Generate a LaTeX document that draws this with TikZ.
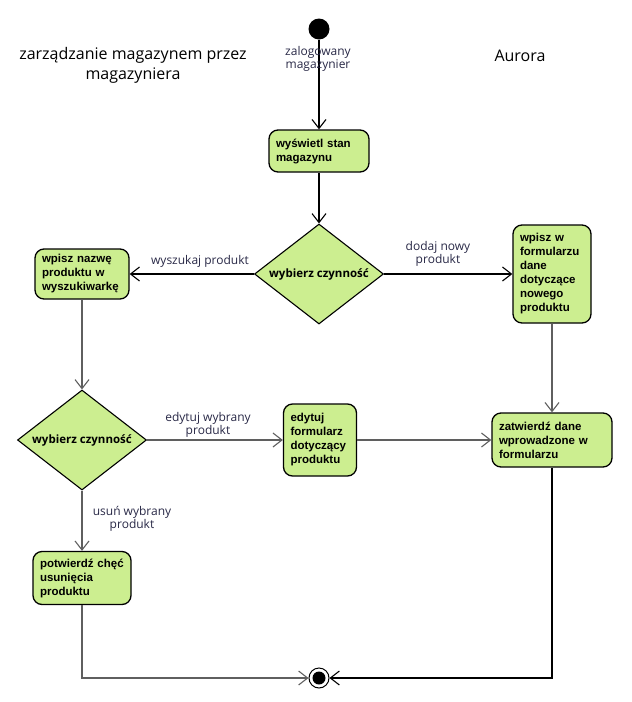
\documentclass[tikz,border=0pt]{standalone}
\usepackage{fontspec}
\setmainfont{Open Sans}
\newfontfamily\boxfont{Liberation Sans}
\usetikzlibrary{arrows.meta,shapes.geometric}
\definecolor{actfill}{RGB}{204,238,144}
\definecolor{greyline}{RGB}{95,95,95}
\definecolor{lbl}{RGB}{40,40,70}
\begin{document}
\begin{tikzpicture}[x=1pt,y=-1pt,
  act/.style={draw, line width=1.3pt, rounded corners=9pt, fill=actfill, align=left,
    font=\boxfont\bfseries\fontsize{11.5}{14}\selectfont, inner xsep=7pt, inner ysep=0pt},
  dec/.style={diamond, draw, line width=1.1pt, fill=actfill, minimum width=129pt,
    minimum height=100pt, inner sep=0pt},
  dectext/.style={font=\bfseries\fontsize{11.5}{12}\selectfont},
  flow/.style={line width=1.1pt, -{Straight Barb[length=9pt,width=14pt]}},
  flowg/.style={flow, draw=greyline},
  lab/.style={font=\fontsize{12}{13.5}\selectfont, text=lbl, align=center, inner sep=0pt},
  ttl/.style={font=\fontsize{16}{20}\selectfont, align=center, inner sep=0pt}
]
\useasboundingbox (0,0) rectangle (632,702);

\node[ttl] (title) at (133,65) {zarządzanie magazynem przez\\magazyniera};
\node[ttl] (aurora) at (520,56) {Aurora};

\node[circle, fill=black, minimum size=21pt, inner sep=0pt] (s) at (319,29) {};
\node[act, text width=86pt, minimum height=42pt] (n1) at (319,151) {wyświetl stan\\magazynu};
\node[dec, label={[dectext]center:wybierz czynność}] (d1) at (319,274) {};
\node[act, text width=80pt, minimum height=50pt] (lft) at (82,274) {wpisz nazwę\\produktu w\\wyszukiwarkę};
\node[act, text width=64pt, minimum height=98pt] (rgt) at (552,274) {wpisz w\\formularzu\\dane\\dotyczące\\nowego\\produktu};
\node[dec, label={[dectext]center:wybierz czynność}] (d2) at (82,440) {};
\node[act, text width=59pt, minimum height=72pt] (edt) at (320,440) {edytuj\\formularz\\dotyczący\\produktu};
\node[act, text width=106pt, minimum height=54pt] (zat) at (552,440) {zatwierdź dane\\wprowadzone w\\formularzu};
\node[act, text width=84pt, minimum height=53pt] (pot) at (82,578) {potwierdź chęć\\usunięcia\\produktu};
\node[circle, draw, line width=1pt, fill=white, minimum size=20pt, inner sep=0pt] (e) at (319,678) {};
\fill (e.center) circle (6.5pt);

\draw[flow] (s) -- (n1);
\draw[flow] (n1) -- (d1);
\draw[flow] (d1) -- (lft);
\draw[flow] (d1) -- (rgt);
\draw[flowg] (lft) -- (d2);
\draw[flowg] (rgt) -- (zat);
\draw[flowg] (d2) -- (edt);
\draw[flowg] (edt) -- (zat);
\draw[flowg] (d2) -- (pot);
\draw[flowg] (pot) |- (e);
\draw[flow] (zat) |- (e);

\node[lab] (l0) at (318,59) {zalogowany\\magazynier};
\node[lab] (l1) at (200,261) {wyszukaj produkt};
\node[lab] (l2) at (438,254) {dodaj nowy\\produkt};
\node[lab] (l3) at (208,425) {edytuj wybrany\\produkt};
\node[lab] (l4) at (132,519) {usuń wybrany\\produkt};
\end{tikzpicture}
\end{document}
